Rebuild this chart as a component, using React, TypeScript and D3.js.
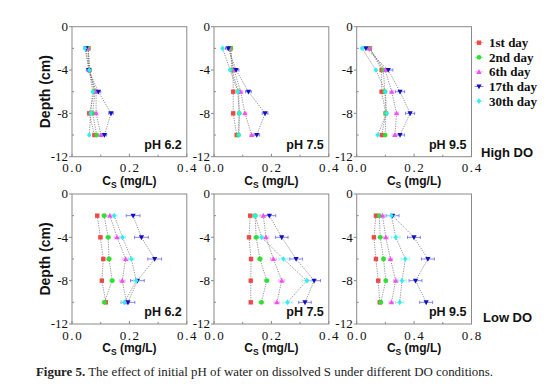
import React from "react";
import * as d3 from "d3";

// ---- data ----
const depths = [-2, -4, -6, -8, -10];
const seriesNames = ["1st day", "2nd day", "6th day", "17th day", "30th day"];
const seriesColors = ["#f04848", "#30e030", "#f050f0", "#1010c0", "#30eef0"];
const errColors = ["#f59090", "#90f090", "#f7a0f7", "#6a6ae8", "#90f4f4"];
const phLabels = ["pH 6.2", "pH 7.5", "pH 9.5"];
const doLabels = ["High DO", "Low DO"];
const xTicksSmall = [0, 0.2, 0.4];
const xTicksLarge = [0, 0.4, 0.8];
const yTicks = [0, -4, -8, -12];

// values per series (1st, 2nd, 6th, 17th, 30th) at depths -2..-10
const hiDO_pH62 = [
  [0.057, 0.060, 0.078, 0.060, 0.078],
  [0.057, 0.061, 0.080, 0.072, 0.086],
  [0.055, 0.060, 0.084, 0.084, 0.101],
  [0.049, 0.058, 0.092, 0.136, 0.113],
  [0.045, 0.060, 0.072, 0.065, 0.060],
];
const hiDO_pH62_err = [0.004, 0.004, 0.005, 0.008, 0.004];
const hiDO_pH75 = [
  [0.058, 0.066, 0.067, 0.067, 0.079],
  [0.058, 0.062, 0.086, 0.088, 0.085],
  [0.052, 0.070, 0.093, 0.108, 0.131],
  [0.050, 0.077, 0.120, 0.178, 0.149],
  [0.030, 0.056, 0.083, 0.088, 0.087],
];
const hiDO_pH75_err = [0.004, 0.005, 0.006, 0.010, 0.005];
const hiDO_pH95 = [
  [0.046, 0.087, 0.087, 0.101, 0.088],
  [0.045, 0.093, 0.098, 0.102, 0.099],
  [0.044, 0.099, 0.122, 0.139, 0.133],
  [0.032, 0.110, 0.151, 0.186, 0.151],
  [0.019, 0.067, 0.100, 0.104, 0.073],
];
const hiDO_pH95_err = [0.005, 0.005, 0.007, 0.016, 0.006];
const loDO_pH62 = [
  [0.088, 0.099, 0.109, 0.104, 0.118],
  [0.112, 0.126, 0.129, 0.140, 0.113],
  [0.132, 0.157, 0.187, 0.175, 0.190],
  [0.213, 0.242, 0.288, 0.228, 0.195],
  [0.147, 0.176, 0.207, 0.224, 0.183],
];
const loDO_pH62_err = [0.005, 0.008, 0.010, 0.024, 0.010];
const loDO_pH75 = [
  [0.126, 0.122, 0.129, 0.128, 0.128],
  [0.143, 0.147, 0.160, 0.184, 0.165],
  [0.172, 0.181, 0.207, 0.236, 0.219],
  [0.193, 0.236, 0.286, 0.349, 0.317],
  [0.143, 0.166, 0.242, 0.323, 0.256],
];
const loDO_pH75_err = [0.004, 0.008, 0.010, 0.022, 0.016];
const loDO_pH95 = [
  [0.134, 0.120, 0.134, 0.150, 0.161],
  [0.157, 0.164, 0.187, 0.203, 0.168],
  [0.180, 0.203, 0.235, 0.272, 0.242],
  [0.250, 0.399, 0.496, 0.410, 0.484],
  [0.242, 0.272, 0.339, 0.316, 0.300],
];
const loDO_pH95_err = [0.010, 0.012, 0.016, 0.045, 0.030];

const panels = [
  { row: 0, col: 0, data: hiDO_pH62, err: hiDO_pH62_err, xmax: 0.4, ticks: xTicksSmall },
  { row: 0, col: 1, data: hiDO_pH75, err: hiDO_pH75_err, xmax: 0.4, ticks: xTicksSmall },
  { row: 0, col: 2, data: hiDO_pH95, err: hiDO_pH95_err, xmax: 0.4, ticks: xTicksSmall },
  { row: 1, col: 0, data: loDO_pH62, err: loDO_pH62_err, xmax: 0.4, ticks: xTicksSmall },
  { row: 1, col: 1, data: loDO_pH75, err: loDO_pH75_err, xmax: 0.4, ticks: xTicksSmall },
  { row: 1, col: 2, data: loDO_pH95, err: loDO_pH95_err, xmax: 0.8, ticks: xTicksLarge },
];

// ---- layout ----
const W = 554;
const H = 388;
const colLeft = [72, 214, 356.7];
const panelW = 114.8;
const rowTop = [26.7, 194];
const panelH = 130;
const SANS = "'Liberation Sans', Arial, sans-serif";
const SERIF = "'Liberation Serif', serif";

function Marker({ kind, x, y, color }: { kind: number; x: number; y: number; color: string }) {
  const s = 2.2;
  if (kind === 0) return <rect x={x - s} y={y - s} width={2 * s} height={2 * s} fill={color} />;
  if (kind === 1) return <circle cx={x} cy={y} r={s + 0.2} fill={color} />;
  if (kind === 2)
    return <path d={`M${x},${y - s - 0.6}L${x + s + 0.4},${y + s - 0.2}L${x - s - 0.4},${y + s - 0.2}Z`} fill={color} />;
  if (kind === 3)
    return <path d={`M${x},${y + s + 0.6}L${x + s + 0.4},${y - s + 0.2}L${x - s - 0.4},${y - s + 0.2}Z`} fill={color} />;
  return <path d={`M${x},${y - s - 0.6}L${x + s},${y}L${x},${y + s + 0.6}L${x - s},${y}Z`} fill={color} />;
}

function Panel({ p }: { p: (typeof panels)[number] }) {
  const x0 = colLeft[p.col];
  const y0 = rowTop[p.row];
  const xs = d3.scaleLinear().domain([0, p.xmax]).range([x0, x0 + panelW]);
  const ys = d3.scaleLinear().domain([0, -12]).range([y0, y0 + panelH]);
  const line = d3
    .line<[number, number]>()
    .x((d) => xs(d[0]))
    .y((d) => ys(d[1]));
  const minorX = d3.range(0, p.xmax + 1e-9, p.xmax / 4);
  const minorY = [-2, -6, -10];
  return (
    <g>
      <rect x={x0} y={y0} width={panelW} height={panelH} fill="none" stroke="#8a8a8a" strokeWidth={1} />
      {yTicks.map((t) => (
        <g key={"yt" + t}>
          <line x1={x0 - 3} x2={x0} y1={ys(t)} y2={ys(t)} stroke="#8a8a8a" />
          <text x={x0 - 4} y={ys(t)} dy="0.33em" textAnchor="end" fontFamily={SERIF} fontSize={13} fill="#111">
            {t === 0 ? "0" : "-" + Math.abs(t)}
          </text>
        </g>
      ))}
      {minorY.map((t) => (
        <line key={"ym" + t} x1={x0} x2={x0 + 2} y1={ys(t)} y2={ys(t)} stroke="#8a8a8a" />
      ))}
      {minorX.map((t, i) => (
        <line key={"xm" + i} x1={xs(t)} x2={xs(t)} y1={y0 + panelH} y2={y0 + panelH - (i % 2 === 0 ? 3 : 2)} stroke="#8a8a8a" />
      ))}
      {p.ticks.map((t) => (
        <text key={"xt" + t} x={xs(t) + 0.8} y={y0 + panelH + 15.5} textAnchor="middle" fontFamily={SERIF} fontSize={13} letterSpacing={1.6} fill="#111">
          {t.toFixed(1)}
        </text>
      ))}
      <text x={x0 + panelW / 2} y={y0 + panelH + 28} textAnchor="middle" fontFamily={SANS} fontSize={12} fontWeight="bold" fill="#111">
        C<tspan fontSize={8.5} dy={3}>S</tspan>
        <tspan dy={-3}> (mg/L)</tspan>
      </text>
      {p.col === 0 && (
        <text
          transform={`translate(${x0 - 22},${y0 + panelH / 2}) rotate(-90)`}
          textAnchor="middle"
          fontFamily={SANS}
          fontSize={14}
          fontWeight="bold"
          fill="#111"
        >
          Depth (cm)
        </text>
      )}
      {p.data.map((vals, si) => (
        <path
          key={"l" + si}
          d={line(vals.map((v, k) => [v, depths[k]] as [number, number])) || ""}
          fill="none"
          stroke="#666"
          strokeWidth={0.7}
          strokeDasharray="1.2,1.2"
        />
      ))}
      {p.data.map((vals, si) =>
        vals.map((v, k) => {
          const e = p.err[si];
          const yy = ys(depths[k]);
          return (
            <g key={"e" + si + "-" + k} stroke={errColors[si]} strokeWidth={0.8}>
              <line x1={xs(v - e)} x2={xs(v + e)} y1={yy} y2={yy} />
              <line x1={xs(v - e)} x2={xs(v - e)} y1={yy - 1.6} y2={yy + 1.6} />
              <line x1={xs(v + e)} x2={xs(v + e)} y1={yy - 1.6} y2={yy + 1.6} />
            </g>
          );
        })
      )}
      {p.data.map((vals, si) =>
        vals.map((v, k) => <Marker key={"m" + si + "-" + k} kind={si} x={xs(v)} y={ys(depths[k])} color={seriesColors[si]} />)
      )}
      <text x={x0 + panelW - 5} y={y0 + panelH - 8} textAnchor="end" fontFamily={SANS} fontSize={12.5} fontWeight="bold" fill="#111">
        {phLabels[p.col]}
      </text>
    </g>
  );
}

export default function App() {
  return (
    <div style={{ position: "absolute", left: 0, top: 0 }}>
      <svg width={W} height={H} style={{ display: "block", background: "#fff" }}>
        {panels.map((p, i) => (
          <Panel key={i} p={p} />
        ))}
        {seriesNames.map((n, i) => {
          const y = 42.7 + i * 14.6;
          return (
            <g key={n}>
              <line x1={474.5} x2={483.5} y1={y} y2={y} stroke={errColors[i]} strokeWidth={0.8} />
              <Marker kind={i} x={479} y={y} color={seriesColors[i]} />
              <text x={489} y={y} dy="0.35em" fontFamily={SERIF} fontSize={13} fontWeight="bold" fill="#111">
                {n}
              </text>
            </g>
          );
        })}
        <text x={481} y={152} dy="0.35em" fontFamily={SANS} fontSize={13} fontWeight="bold" fill="#111">
          {doLabels[0]}
        </text>
        <text x={483} y={317} dy="0.35em" fontFamily={SANS} fontSize={13} fontWeight="bold" fill="#111">
          {doLabels[1]}
        </text>
        <text x={36} y={376} fontFamily={SERIF} fontSize={12.9} fill="#222">
          <tspan fontWeight="bold">Figure 5.</tspan>
          <tspan> The effect of initial pH of water on dissolved S under different DO conditions.</tspan>
        </text>
      </svg>
    </div>
  );
}
